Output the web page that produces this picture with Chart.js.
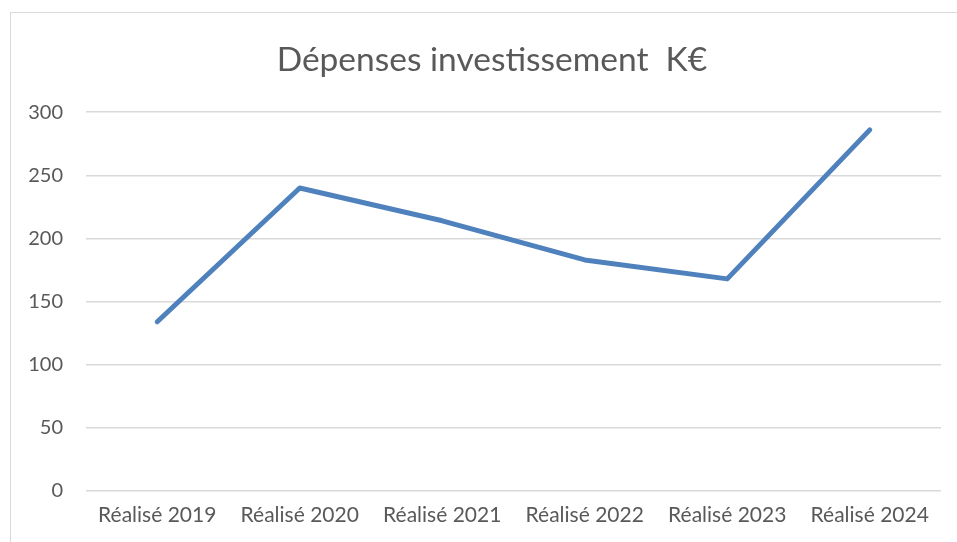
<!DOCTYPE html>
<html>
<head>
<meta charset="utf-8">
<script src="https://cdn.jsdelivr.net/npm/chart.js@4.4.0/dist/chart.umd.min.js"></script>
<style>
  html, body { margin: 0; padding: 0; background: #fff; }
  #frame { position: absolute; left: 10px; top: 12px; width: 1000px; height: 600px; border: 1px solid #d9d9d9; }
  #wrap { position: absolute; left: 0; top: 0; width: 957px; height: 542px; }
</style>
</head>
<body>
<div id="frame"></div>
<div id="wrap"><canvas id="chart" width="957" height="542"></canvas></div>
<script>
let categories = [
    'Réalisé 2019',
    'Réalisé 2020',
    'Réalisé 2021',
    'Réalisé 2022',
    'Réalisé 2023',
    'Réalisé 2024'
];

let depenses = [
    134,
    240,
    214,
    183,
    168,
    286
];

let yTicks = [0, 50, 100, 150, 200, 250, 300];

const textGrey = '#595959';
const fontFam = 'Lato, "Open Sans", sans-serif';

const data = {
    labels: categories,
    datasets: [{
        data: depenses,
        borderColor: 'rgb(79, 129, 189)',
        borderWidth: 5,
        borderCapStyle: 'round',
        borderJoinStyle: 'round',
        pointRadius: 0,
        tension: 0,
        fill: false
    }]
};

const config = {
    type: 'line',
    data: data,
    options: {
        responsive: false,
        animation: false,
        layout: {
            padding: { left: 0, right: 16, top: 0, bottom: 0 }
        },
        plugins: {
            legend: { display: false },
            tooltip: { enabled: false },
            title: {
                display: true,
                // leading spaces push the title a little right, as in the original
                text: '     Dépenses investissement  K€',
                color: textGrey,
                font: { family: fontFam, size: 33.5, weight: 'normal' },
                padding: { top: 40, bottom: 32 }
            }
        },
        scales: {
            x: {
                offset: true,
                grid: { display: false, drawTicks: false },
                border: { display: false },
                ticks: {
                    color: textGrey,
                    font: { family: fontFam, size: 21 },
                    padding: 12,
                    maxRotation: 0
                },
                afterFit: function (scale) { scale.height = 51; }
            },
            y: {
                min: 0,
                max: 300,
                afterBuildTicks: function (scale) {
                    scale.ticks = yTicks.map(v => ({ value: v }));
                },
                grid: { color: '#d9d9d9', lineWidth: 1.5, drawTicks: false },
                border: { display: false },
                ticks: {
                    color: textGrey,
                    font: { family: fontFam, size: 20 },
                    padding: 23
                },
                afterFit: function (scale) { scale.width = 86; }
            }
        }
    }
};

const chart = new Chart(document.getElementById('chart'), config);
</script>
</body>
</html>
